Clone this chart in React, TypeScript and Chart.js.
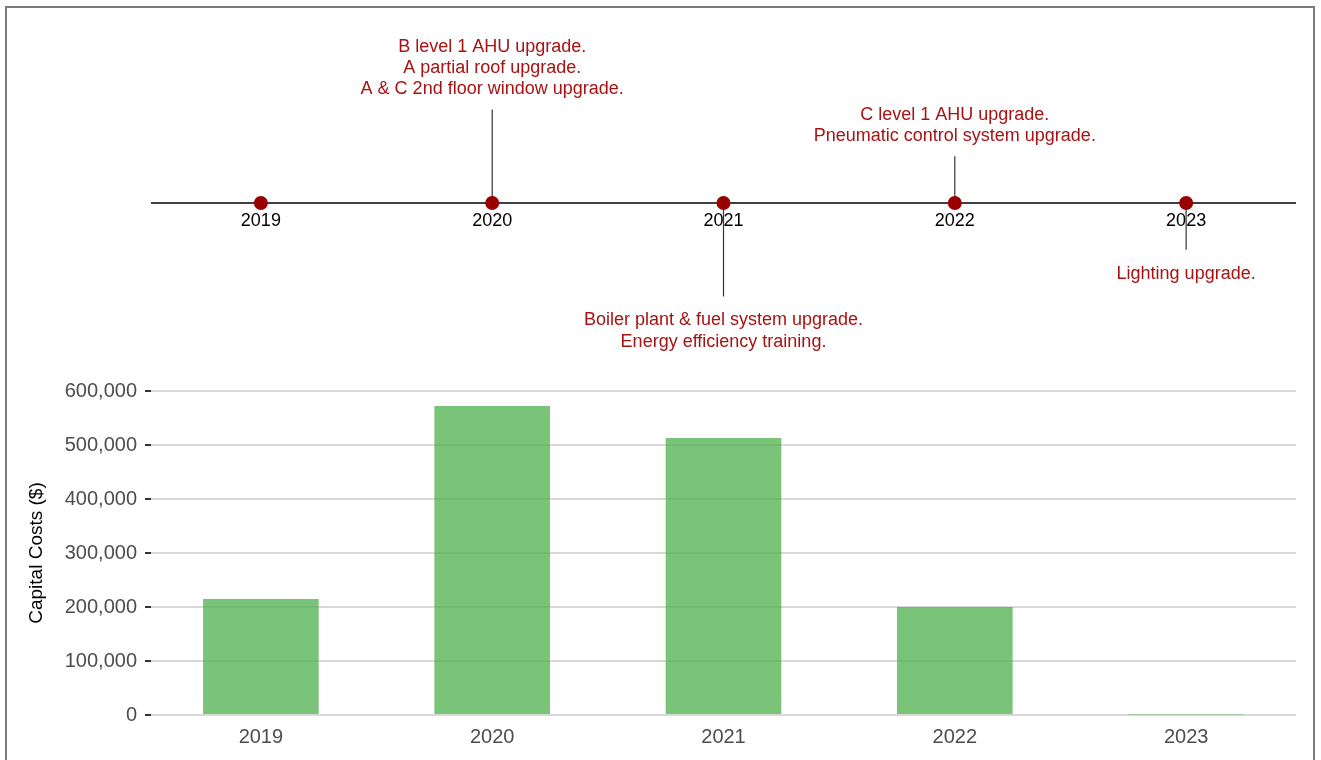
import React, { useEffect, useRef } from "react";
import { Chart, registerables } from "chart.js";

Chart.register(...registerables);

// ---- data ----
const years = ["2019", "2020", "2021", "2022", "2023"];
const capitalCosts = [215000, 572000, 513000, 200000, 1000];
const yTicks = [0, 100000, 200000, 300000, 400000, 500000, 600000];

const eventYears = ["2020", "2021", "2022", "2023"];
const stemLengths = [1, -1, 0.5, -0.5];
const eventTexts = [
  ["B level 1 AHU upgrade.", "A partial roof upgrade.", "A & C 2nd floor window upgrade."],
  ["Boiler plant & fuel system upgrade.", "Energy efficiency training."],
  ["C level 1 AHU upgrade.", "Pneumatic control system upgrade."],
  ["Lighting upgrade."],
];

const FONT = "'Liberation Sans', Arial, Helvetica, sans-serif";
const X_MIN = -0.475;
const X_MAX = years.length - 1 + 0.475;

function TimelineChart() {
  const ref = useRef<HTMLCanvasElement | null>(null);
  useEffect(() => {
    const canvas = ref.current!;
    const idx = (y: string) => years.indexOf(y);
    const stemData: any[] = [];
    eventYears.forEach((y, i) => {
      stemData.push({ x: idx(y), y: 0 });
      stemData.push({ x: idx(y), y: stemLengths[i] });
      stemData.push({ x: idx(y), y: null });
    });

    const textPlugin = {
      id: "timelineText",
      beforeDatasetsDraw(chart: any) {
        const { ctx, scales } = chart;
        ctx.save();
        ctx.font = `18px ${FONT}`;
        ctx.fillStyle = "#000000";
        ctx.textAlign = "center";
        ctx.textBaseline = "middle";
        const y0 = scales.y.getPixelForValue(0);
        years.forEach((yr, i) => {
          ctx.fillText(yr, scales.x.getPixelForValue(i), y0 + 18);
        });
        ctx.restore();
      },
      afterDatasetsDraw(chart: any) {
        const { ctx, scales } = chart;
        ctx.save();
        ctx.font = `18px ${FONT}`;
        ctx.fillStyle = "#A81212";
        ctx.textAlign = "center";
        ctx.textBaseline = "middle";
        eventYears.forEach((yr, i) => {
          const x = scales.x.getPixelForValue(idx(yr));
          const yEnd = scales.y.getPixelForValue(stemLengths[i]);
          const lines = eventTexts[i];
          if (stemLengths[i] > 0) {
            lines.forEach((t, k) => {
              const yy = yEnd - 20 - (lines.length - 1 - k) * 21;
              ctx.fillText(t, x, yy);
            });
          } else {
            lines.forEach((t, k) => {
              ctx.fillText(t, x, yEnd + 24 + k * 21.5);
            });
          }
        });
        ctx.restore();
      },
    };

    const chart = new Chart(canvas, {
      type: "scatter",
      data: {
        datasets: [
          {
            data: years.map((_, i) => ({ x: i, y: 0 })),
            backgroundColor: "#990000",
            borderColor: "#990000",
            pointRadius: 7,
            borderWidth: 0,
            showLine: false,
          } as any,
          {
            data: stemData,
            showLine: true,
            spanGaps: false,
            borderColor: "#333333",
            borderWidth: 1.2,
            pointRadius: 0,
          },
          {
            data: [
              { x: X_MIN, y: 0 },
              { x: X_MAX, y: 0 },
            ],
            showLine: true,
            borderColor: "#000000",
            borderWidth: 1.5,
            pointRadius: 0,
          },
        ],
      },
      options: {
        animation: false,
        responsive: false,
        events: [],
        layout: { autoPadding: false, padding: { left: 151, right: 25, top: 16, bottom: 3.4 } },
        plugins: { legend: { display: false }, tooltip: { enabled: false } },
        scales: {
          x: { type: "linear", min: X_MIN, max: X_MAX, display: false },
          y: { type: "linear", min: -1.75, max: 2.0, display: false },
        },
      },
      plugins: [textPlugin],
    });
    return () => chart.destroy();
  }, []);
  return (
    <canvas
      ref={ref}
      width={1321}
      height={370}
      style={{ position: "absolute", left: 0, top: 0, width: 1321, height: 370, display: "block" }}
    />
  );
}

function BarChart() {
  const ref = useRef<HTMLCanvasElement | null>(null);
  useEffect(() => {
    const canvas = ref.current!;
    const chart = new Chart(canvas, {
      type: "bar",
      data: {
        datasets: [
          {
            data: capitalCosts.map((v, i) => ({ x: i, y: v })),
            backgroundColor: "rgba(76,175,74,0.74)",
            borderWidth: 0,
            barPercentage: 0.5,
            categoryPercentage: 1.0,
          },
        ],
      },
      options: {
        animation: false,
        responsive: false,
        events: [],
        layout: { autoPadding: false, padding: { left: 0, right: 25, top: 21, bottom: 0 } },
        plugins: { legend: { display: false }, tooltip: { enabled: false } },
        scales: {
          x: {
            type: "linear",
            min: X_MIN,
            max: X_MAX,
            offset: false,
            grid: { display: false, drawTicks: false, offset: false },
            border: { display: false },
            afterBuildTicks: (axis: any) => {
              axis.ticks = years.map((_, i) => ({ value: i }));
            },
            afterFit: (scale: any) => {
              scale.height = 45;
            },
            ticks: {
              padding: 10,
              color: "#4D4D4D",
              font: { family: FONT, size: 20 },
              maxRotation: 0,
              autoSkip: false,
              callback: (v: any) => years[Math.round(Number(v))] ?? "",
            },
          },
          y: {
            type: "linear",
            min: 0,
            max: 600000,
            afterBuildTicks: (axis: any) => {
              axis.ticks = yTicks.map((v) => ({ value: v }));
            },
            afterFit: (scale: any) => {
              scale.width = 151;
            },
            grid: {
              color: "#D9D9D9",
              lineWidth: 2,
              tickColor: "#333333",
              tickLength: 6,
              tickWidth: 2,
            },
            border: { display: false },
            ticks: {
              padding: 8,
              color: "#4D4D4D",
              font: { family: FONT, size: 20 },
              callback: (v: any) => Number(v).toLocaleString("en-US"),
            },
            title: {
              display: true,
              text: "Capital Costs ($)",
              color: "#000000",
              font: { family: FONT, size: 19 },
              padding: { top: 25.6, bottom: 0 },
            },
          },
        },
      },
    });
    return () => chart.destroy();
  }, []);
  return (
    <canvas
      ref={ref}
      width={1321}
      height={390}
      style={{ position: "absolute", left: 0, top: 370, width: 1321, height: 390, display: "block" }}
    />
  );
}

export default function App() {
  return (
    <div
      style={{
        position: "absolute",
        left: 0,
        top: 0,
        width: 1321,
        height: 760,
        overflow: "hidden",
        background: "#ffffff",
      }}
    >
      <TimelineChart />
      <BarChart />
      <div
        style={{
          position: "absolute",
          left: 5,
          top: 6,
          width: 1310,
          height: 800,
          border: "2px solid #7a7a7a",
          boxSizing: "border-box",
          pointerEvents: "none",
        }}
      />
    </div>
  );
}
